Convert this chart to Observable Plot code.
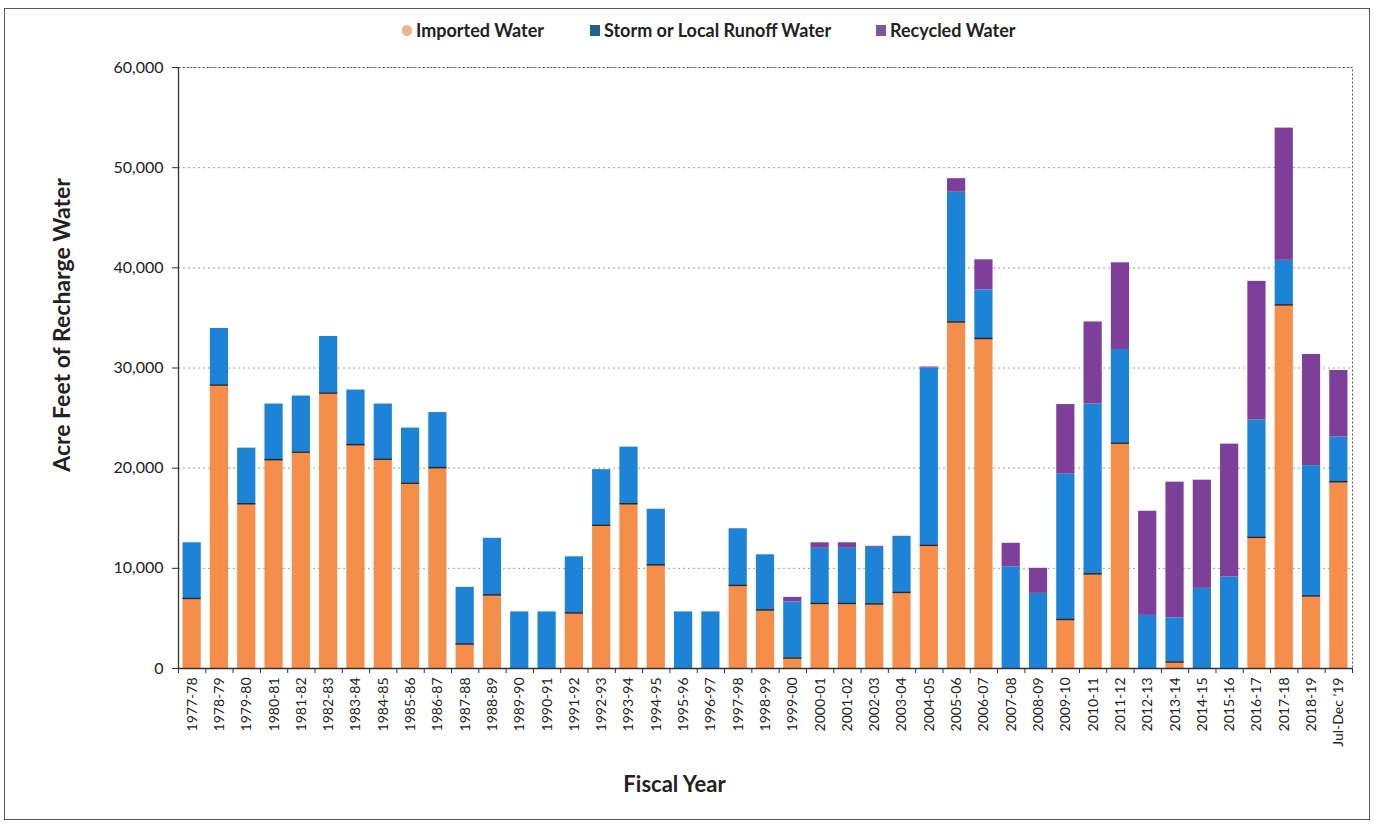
<!DOCTYPE html>
<html>
<head>
<meta charset="utf-8">
<script src="https://cdn.jsdelivr.net/npm/d3@7"></script>
<script src="https://cdn.jsdelivr.net/npm/@observablehq/plot@0.6"></script>
<style>
  html, body { margin: 0; padding: 0; background: #fff; }
  #wrap { position: relative; width: 1374px; height: 825px; overflow: hidden; font-family: Lato, "Open Sans", sans-serif; }
  #border { position: absolute; left: 4px; top: 8px; width: 1366px; height: 812px; border: 1px solid #555; box-sizing: border-box; pointer-events: none; }
  #chart { position: absolute; left: 0; top: 0; }
  .leg { position: absolute; top: 19px; font-weight: bold; font-size: 18px; color: #222; display: flex; align-items: center; white-space: nowrap; }
  .sw { display: inline-block; width: 10px; height: 11px; margin-right: 4px; }
</style>
</head>
<body>
<div id="wrap">
  <div id="chart"></div>
  <div id="legend"></div>
  <div id="border"></div>
</div>
<script>
// ---- data ----
const years = ["1977-78","1978-79","1979-80","1980-81","1981-82","1982-83","1983-84","1984-85","1985-86","1986-87",
  "1987-88","1988-89","1989-90","1990-91","1991-92","1992-93","1993-94","1994-95","1995-96","1996-97",
  "1997-98","1998-99","1999-00","2000-01","2001-02","2002-03","2003-04","2004-05","2005-06","2006-07",
  "2007-08","2008-09","2009-10","2010-11","2011-12","2012-13","2013-14","2014-15","2015-16","2016-17",
  "2017-18","2018-19","Jul-Dec '19"];
const imported = [7000,28300,16450,20850,21600,27500,22350,20900,18500,20050,
  2450,7350,0,0,5550,14300,16450,10350,0,0,
  8300,5850,1050,6500,6500,6450,7600,12300,34600,32950,
  0,0,4900,9450,22500,0,650,0,0,13100,
  36300,7250,18650];
const storm = [5550,5650,5550,5550,5600,5650,5450,5500,5500,5500,
  5650,5650,5650,5650,5600,5550,5650,5550,5650,5650,
  5650,5500,5600,5500,5500,5650,5600,17700,12950,4850,
  10150,7500,14500,16950,9350,5300,4400,8000,9150,11700,
  4450,13000,4450];
const recycled = [0,0,0,0,0,0,0,0,0,0,
  0,0,0,0,0,0,0,0,0,0,
  0,0,450,550,550,100,0,100,1350,3000,
  2350,2500,6950,8200,8650,10400,13550,10800,13250,13850,
  13200,11100,6650];
const seriesNames = ["Imported Water","Storm or Local Runoff Water","Recycled Water"];
const barColors = ["#F68E4B","#1C83D6","#7E3F9B"];
const legendColors = ["#F4B183","#1F6391","#7B5A9C"];
const yTicks = [0,10000,20000,30000,40000,50000,60000];

// ---- layout ----
const W = 1374, H = 825, mL = 178, mR = 22, mT = 67, mB = 157;
const step = (W - mL - mR) / years.length;

const rows = years.flatMap((yr, i) => [
  {year: yr, type: seriesNames[0], value: imported[i]},
  {year: yr, type: seriesNames[1], value: storm[i]},
  {year: yr, type: seriesNames[2], value: recycled[i]}
]);
const seps = years.map((yr, i) => ({year: yr, v: imported[i], s: storm[i]})).filter(d => d.v > 0 && d.s > 0);

const chart = Plot.plot({
  width: W, height: H,
  marginLeft: mL, marginRight: mR, marginTop: mT, marginBottom: mB,
  style: {fontFamily: "Lato, 'Open Sans', sans-serif", color: "#222", background: "transparent"},
  x: {domain: years, paddingInner: 1/3, paddingOuter: 1/6, round: false, label: null},
  y: {domain: [0, 60000], label: null},
  color: {domain: seriesNames, range: barColors},
  marks: [
    Plot.gridY(yTicks, {stroke: "#777", strokeOpacity: 0.7, strokeDasharray: "2,3"}),
    Plot.frame({stroke: "#555", strokeDasharray: "2,2"}),
    Plot.barY(rows, {x: "year", y: "value", fill: "type", order: seriesNames}),
    Plot.tickY(seps, {x: "year", y: "v", stroke: "#1d2a3a", strokeWidth: 1.5}),
    Plot.ruleY([0], {stroke: "#333", strokeWidth: 1.3}),
    Plot.ruleX([years[0]], {dx: -step / 2, stroke: "#333", strokeWidth: 1.3}),
    Plot.ruleX(years, {x: d => d, dx: -step / 2, y1: 0, y2: 0, insetBottom: -5, stroke: "#333"}),
    Plot.ruleX([years[years.length - 1]], {dx: step / 2, y1: 0, y2: 0, insetBottom: -5, stroke: "#333"}),
    Plot.axisY({ticks: yTicks, tickFormat: d3.format(","), tickSize: 6, tickPadding: 9, fontSize: 16, stroke: "#333"}),
    Plot.axisX({tickSize: 0, tickPadding: 9, tickRotate: -90, fontSize: 14, label: null}),
    Plot.text(["Acre Feet of Recharge Water"], {frameAnchor: "left", dx: -116, dy: -43, rotate: -90, textAnchor: "middle", lineAnchor: "middle", fontSize: 23, fontWeight: "bold", fill: "#222"}),
    Plot.text(["Fiscal Year"], {frameAnchor: "bottom", dx: -91, dy: 116, textAnchor: "middle", lineAnchor: "middle", fontSize: 22, fontWeight: "bold", fill: "#222"})
  ]
});
document.getElementById("chart").append(chart);

// ---- legend ----
const legendLeft = [402, 590, 876];
const leg = document.getElementById("legend");
seriesNames.forEach((name, i) => {
  const item = document.createElement("div");
  item.className = "leg";
  item.style.left = legendLeft[i] + "px";
  const sw = document.createElement("span");
  sw.className = "sw";
  sw.style.background = legendColors[i];
  if (i === 0) sw.style.borderRadius = "50%";
  item.append(sw, document.createTextNode(name));
  leg.append(item);
});
</script>
</body>
</html>
